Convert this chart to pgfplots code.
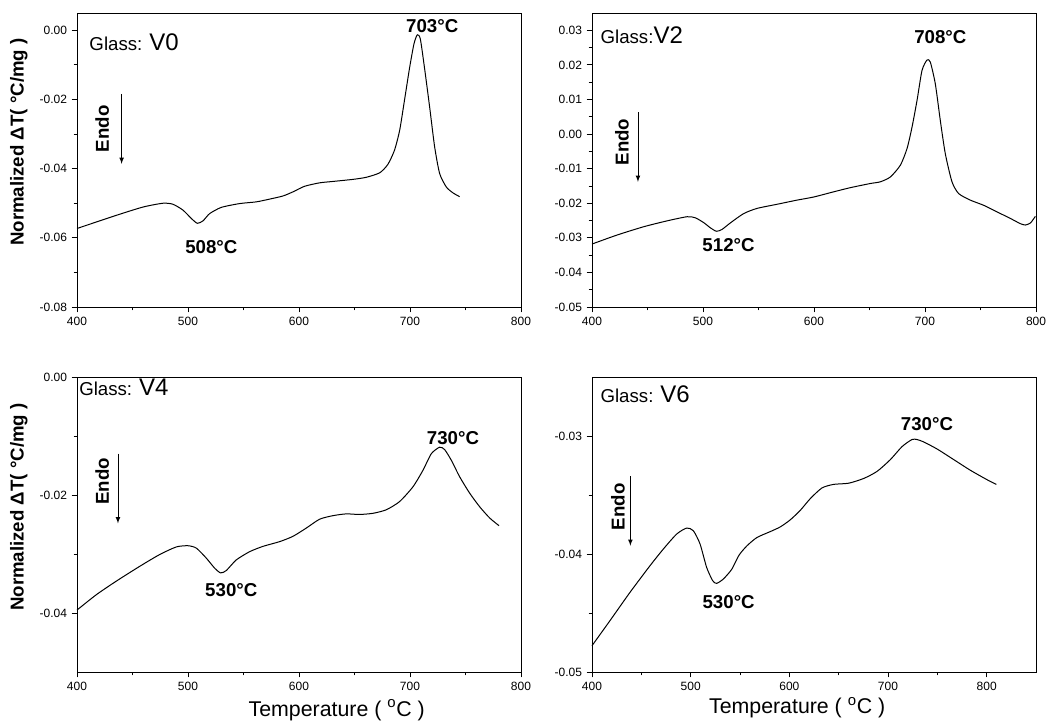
\documentclass[border=0pt]{standalone}
\usepackage{fontspec}
\setmainfont{Liberation Sans}
\usepackage{pgfplots}
\pgfplotsset{compat=1.18}

\pgfplotsset{
 dta/.style={scale only axis, width=333pt, clip=false,
   axis line style={line width=0.7pt},
   every tick/.style={line width=0.6pt, black},
   tick align=outside, tick pos=left,
   major tick length=4pt, minor tick length=2.5pt,
   scaled y ticks=false, scaled x ticks=false,
   tick label style={font=\fontsize{9}{10}\selectfont},
   /pgf/number format/assume math mode=true,
   yticklabel style={/pgf/number format/fixed, /pgf/number format/fixed zerofill, /pgf/number format/precision=2, /pgf/number format/assume math mode=true},
   xticklabel style={/pgf/number format/fixed, /pgf/number format/precision=0, /pgf/number format/assume math mode=true},
   xtick={400,500,600,700,800}, minor x tick num=1, minor y tick num=1, xmin=400},
}
\tikzset{
 curve/.style={black, line width=0.75pt, smooth, tension=0.4},
 peak/.style={font=\bfseries\fontsize{14}{16}\selectfont},
 endo/.style={rotate=90, font=\bfseries\fontsize{14}{16}\selectfont},
 arr/.style={-latex, line width=0.6pt},
 ylab/.style={rotate=90, font=\bfseries\fontsize{14}{16}\selectfont},
 xlab/.style={font=\fontsize{16}{18}\selectfont},
}

\begin{document}
\begin{tikzpicture}
\path[use as bounding box] (0,0) rectangle (786pt,543.75pt);

% ---------------- V0 ----------------
\begin{axis}[dta, at={(57.75pt,313.5pt)}, anchor=south west, height=220.5pt,
  xmax=800, ymin=-0.08, ymax=0.005, ytick={-0.08,-0.06,-0.04,-0.02,0}]
\addplot[curve] coordinates {
(400,-0.0573) (435.4,-0.0535) (459.5,-0.0511) (477.5,-0.0500) (486.5,-0.0503)
(495.5,-0.0520) (503,-0.0544) (508.4,-0.0558) (513.5,-0.0551) (519.5,-0.0530)
(530,-0.0512) (546.5,-0.0501) (561.6,-0.0496) (573.6,-0.0488) (585.6,-0.0479)
(594.6,-0.0467) (605,-0.0451) (618.6,-0.0441) (630.6,-0.0437) (648.6,-0.0431)
(660.6,-0.0425) (672.7,-0.0412) (680,-0.0388) (686,-0.0347) (690.7,-0.0289)
(695,-0.0203) (699.7,-0.0107) (703.6,-0.0039) (706.6,-0.0013) (709.3,-0.0025)
(713,-0.0107) (717.7,-0.0222) (722.2,-0.0337) (726.7,-0.0414) (732.7,-0.0453)
(738.7,-0.0470) (744.7,-0.0481)};
\node[peak] at (axis cs:720,0.0013) {703°C};
\node[peak] at (axis cs:521,-0.0626) {508°C};
\node[anchor=base west, inner sep=0pt] at (axis cs:411,-0.0059)
  {\fontsize{14}{16}\selectfont Glass: \fontsize{18}{20}\selectfont V0};
\draw[arr] (axis cs:440.2,-0.0184) -- (axis cs:440.2,-0.0386);
\node[endo] at (axis cs:422.8,-0.0285) {Endo};
\node[ylab] at (rel axis cs:-0.131,0.561) {Normalized ΔT( °C/mg )};
\end{axis}

% ---------------- V2 ----------------
\begin{axis}[dta, at={(444pt,313.5pt)}, anchor=south west, height=220.5pt,
  xmax=800, ymin=-0.05, ymax=0.035,
  ytick={-0.05,-0.04,-0.03,-0.02,-0.01,0,0.01,0.02,0.03}]
\addplot[curve] coordinates {
(400,-0.0318) (422.5,-0.0292) (446.5,-0.0268) (467.6,-0.0251) (485.6,-0.0239)
(493,-0.0242) (500.6,-0.0256) (506.6,-0.0271) (512,-0.0281) (517,-0.0276)
(524.6,-0.0257) (536.6,-0.0230) (548.6,-0.0215) (566.7,-0.0203) (584.7,-0.0191)
(599.7,-0.0182) (617.7,-0.0167) (632.7,-0.0155) (650.7,-0.0143) (659.8,-0.0138)
(668.8,-0.0124) (677.8,-0.0090) (683.8,-0.0042) (688.3,0.0020) (692.8,0.0097)
(697.3,0.0184) (701.8,0.0214) (704.8,0.0208) (709.3,0.0145) (713.8,0.0039)
(718.3,-0.0057) (724.3,-0.0138) (730.3,-0.0172) (740.8,-0.0191) (752.9,-0.0206)
(764.9,-0.0225) (776.9,-0.0244) (785.9,-0.0259) (790.4,-0.0263) (795,-0.0257)
(799.4,-0.0238)};
\node[peak] at (axis cs:713.8,0.0280) {708°C};
\node[peak] at (axis cs:523,-0.0321) {512°C};
\node[anchor=base west, inner sep=0pt] at (axis cs:407.5,0.0263)
  {\fontsize{14}{16}\selectfont Glass:\fontsize{18}{20}\selectfont V2};
\draw[arr] (axis cs:441.4,0.0063) -- (axis cs:441.4,-0.0138);
\node[endo] at (axis cs:427,-0.0023) {Endo};
\end{axis}

% ---------------- V4 ----------------
\begin{axis}[dta, at={(57.75pt,39.75pt)}, anchor=south west, height=221.25pt,
  xmax=800, ymin=-0.05, ymax=0.0, ytick={-0.04,-0.02,0}]
\addplot[curve] coordinates {
(400,-0.0395) (417.4,-0.0369) (435.4,-0.0346) (456.4,-0.0321) (474.4,-0.0301)
(489.5,-0.0288) (500,-0.0286) (507.5,-0.0290) (516.5,-0.0307) (524,-0.0324)
(529.4,-0.0332) (534.5,-0.0328) (543.5,-0.0310) (555.6,-0.0296) (567.6,-0.0287)
(582.6,-0.0279) (594.6,-0.0270) (606.6,-0.0256) (618.6,-0.0241) (630.6,-0.0235)
(642.6,-0.0232) (654.6,-0.0233) (666.7,-0.0231) (678.7,-0.0225) (690.7,-0.0211)
(702.7,-0.0186) (711.7,-0.0158) (719.2,-0.0130) (726.7,-0.0119) (731.2,-0.0123)
(737.2,-0.0141) (744.7,-0.0169) (753.8,-0.0197) (762.8,-0.0220) (771.8,-0.0239)
(780.2,-0.0252)};
\node[peak] at (axis cs:738.7,-0.0103) {730°C};
\node[peak] at (axis cs:539,-0.0362) {530°C};
\node[anchor=base west, inner sep=0pt] at (axis cs:401.8,-0.0031)
  {\fontsize{14}{16}\selectfont Glass: \fontsize{18}{20}\selectfont V4};
\draw[arr] (axis cs:436.9,-0.0130) -- (axis cs:436.9,-0.0248);
\node[endo] at (axis cs:422.8,-0.0177) {Endo};
\node[ylab] at (rel axis cs:-0.131,0.559) {Normalized ΔT( °C/mg )};
\node[xlab] at (rel axis cs:0.585,-0.129) {Temperature ( \textsuperscript{o}C )};
\end{axis}

% ---------------- V6 ----------------
\begin{axis}[dta, at={(444pt,39.75pt)}, anchor=south west, height=221.25pt,
  xmax=850, ymin=-0.05, ymax=-0.025, ytick={-0.05,-0.04,-0.03}]
\addplot[curve] coordinates {
(400,-0.04777) (418.2,-0.04565) (438.5,-0.04325) (458.8,-0.04099) (472.3,-0.03958)
(485.8,-0.03831) (496,-0.0378) (502.7,-0.03803) (509.5,-0.03915) (516.2,-0.04114)
(522.3,-0.04226) (526.3,-0.04249) (533.1,-0.04212) (541.6,-0.0413) (549,-0.0401)
(557.1,-0.0393) (567.2,-0.0386) (580.7,-0.0381) (590.9,-0.0377)
(601,-0.0371) (611.1,-0.0363) (621.3,-0.0353) (633.1,-0.0344) (644.9,-0.0341)
(660.1,-0.0340) (675.3,-0.0336) (688.9,-0.0330) (702.4,-0.0320) (714.2,-0.0309)
(724.3,-0.0303) (729.4,-0.0303) (736.1,-0.0305) (749.7,-0.0311) (766.6,-0.0320)
(783.4,-0.0329) (800.3,-0.0337) (809.8,-0.0341)};
\node[peak] at (axis cs:739.5,-0.0290) {730°C};
\node[peak] at (axis cs:538.5,-0.0441) {530°C};
\node[anchor=base west, inner sep=0pt] at (axis cs:408.4,-0.0272)
  {\fontsize{14}{16}\selectfont Glass: \fontsize{18}{20}\selectfont V6};
\draw[arr] (axis cs:438.9,-0.0334) -- (axis cs:438.9,-0.0393);
\node[endo] at (axis cs:426.4,-0.0360) {Endo};
\node[xlab] at (rel axis cs:0.462,-0.122) {Temperature ( \textsuperscript{o}C )};
\end{axis}
\end{tikzpicture}
\end{document}
